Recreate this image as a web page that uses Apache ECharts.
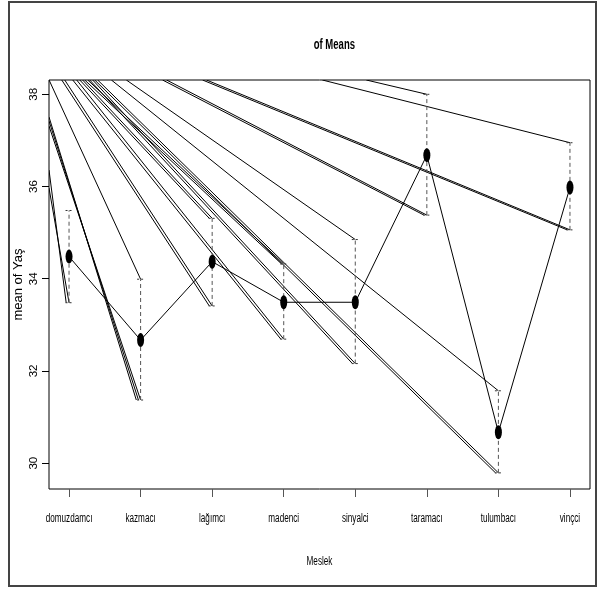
<!DOCTYPE html>
<html>
<head>
<meta charset="utf-8">
<script src="https://cdn.jsdelivr.net/npm/echarts@6/dist/echarts.min.js"></script>
<style>html,body{margin:0;padding:0;background:#fff}#c{width:599px;height:590px}</style>
</head>
<body>
<div id="c"></div>
<script>
// ---- data ----
const categories = ['domuzdamcı','kazmacı','lağımcı','madenci','sinyalci','taramacı','tulumbacı','vinçci'];
const means = [34.48, 32.67, 34.37, 33.49, 33.49, 36.68, 30.67, 35.98];
const upperCI = [35.48, 33.99, 35.31, 34.32, 34.85, 38.00, 31.57, 36.95];
const lowerCI = [33.48, 31.37, 33.41, 32.69, 32.16, 35.38, 29.79, 35.06];
const yTicks = [30, 32, 34, 36, 38];
const xTicks = [0, 1, 2, 3, 4, 5, 6, 7];

// stray segments (artefacts of the source): start point in data units, end at a CI end
const strayFromX = [-0.279, -0.28, -0.28, -0.28, -0.28, -0.28, -0.102, -0.060, 0.052, 0.107, 0.150, 0.190, 0.219, 0.261, 0.289, 0.331, 0.359, 0.400, 0.592, 0.801, 1.307, 1.363, 1.866, 1.921, 3.540, 4.154];
const strayFromY = [38.31, 37.507, 37.42, 37.312, 36.357, 35.967, 38.31, 38.31, 38.31, 38.31, 38.31, 38.31, 38.31, 38.31, 38.31, 38.31, 38.31, 38.31, 38.31, 38.31, 38.31, 38.31, 38.31, 38.31, 38.31, 38.31];
const strayToCat = [1, 1, 1, 1, 0, 0, 2, 2, 3, 3, 2, 2, 3, 3, 4, 4, 6, 6, 6, 4, 5, 5, 7, 7, 7, 5];
const strayToEnd = ['u','l','l','l','l','l','l','l','l','l','u','u','u','u','l','l','l','l','u','u','l','l','l','l','u','u'];
const strayToShift = [0, -0.06, -0.03, 0, -0.04, 0, -0.04, 0, -0.04, 0, -0.04, 0, -0.03, 0, -0.04, 0, -0.04, 0, 0, 0, -0.04, 0, -0.04, 0, 0, 0];

const X_MIN = -0.28, X_MAX = 7.28, Y_MIN = 29.44, Y_MAX = 38.31;

const meanData = means.map((v, i) => [i, v]);
const ciData = means.map((v, i) => [i, lowerCI[i], upperCI[i]]);
const strayData = strayFromX.map((fx, k) => {
  const c = strayToCat[k];
  const ty = strayToEnd[k] === 'u' ? upperCI[c] : lowerCI[c];
  return [fx, strayFromY[k], c + strayToShift[k], ty];
});

const regular = "'Liberation Sans', Arial, sans-serif";
const ellipse = 'path://M0,50 A50,50 0 1,1 100,50 A50,50 0 1,1 0,50 Z';
const SQUEEZE = 0.68;

const chart = echarts.init(document.getElementById('c'), null, {renderer: 'canvas'});
chart.setOption({
  animation: false,
  backgroundColor: '#fff',
  grid: {left: 49, right: 9, top: 80, bottom: 101, show: true, borderColor: '#000', borderWidth: 1, backgroundColor: 'transparent'},
  xAxis: {
    type: 'value', min: X_MIN, max: X_MAX,
    splitLine: {show: false},
    axisLine: {show: false, onZero: false},
    axisTick: {show: true, length: 8, customValues: xTicks, lineStyle: {color: '#555'}},
    axisLabel: {show: false}
  },
  yAxis: {
    type: 'value', min: Y_MIN, max: Y_MAX,
    splitLine: {show: false},
    axisLine: {show: false, onZero: false},
    axisTick: {show: true, length: 7, customValues: yTicks, lineStyle: {color: '#000'}},
    axisLabel: {customValues: yTicks, rotate: 90, margin: 9, fontSize: 11.5, fontFamily: regular, color: '#000'},
    name: 'mean of Yaş', nameLocation: 'middle', nameGap: 24, nameRotate: 90, nameMoveOverlap: false,
    nameTextStyle: {fontSize: 13, fontFamily: regular, color: '#000'}
  },
  series: [
    {
      type: 'custom', name: 'stray', data: strayData, clip: true, z: 2,
      renderItem: (params, api) => {
        const a = api.coord([api.value(0), api.value(1)]);
        const b = api.coord([api.value(2), api.value(3)]);
        return {type: 'line', shape: {x1: a[0], y1: a[1], x2: b[0], y2: b[1]},
          style: {stroke: '#000', lineWidth: 1}};
      }
    },
    {
      type: 'custom', name: 'ci', data: ciData, clip: true, z: 3,
      renderItem: (params, api) => {
        const lo = api.coord([api.value(0), api.value(1)]);
        const hi = api.coord([api.value(0), api.value(2)]);
        const w = 3.5;
        return {type: 'group', children: [
          {type: 'line', shape: {x1: lo[0], y1: lo[1], x2: hi[0], y2: hi[1]}, style: {stroke: '#555', lineWidth: 1, lineDash: [4, 3]}},
          {type: 'line', shape: {x1: hi[0] - w, y1: hi[1], x2: hi[0] + w, y2: hi[1]}, style: {stroke: '#333', lineWidth: 1, lineDash: [2, 2]}},
          {type: 'line', shape: {x1: lo[0] - w, y1: lo[1], x2: lo[0] + w, y2: lo[1]}, style: {stroke: '#333', lineWidth: 1, lineDash: [2, 2]}}
        ]};
      }
    },
    {
      type: 'line', name: 'mean', data: meanData, z: 4,
      symbol: ellipse, symbolSize: [7, 14], showAllSymbol: true,
      itemStyle: {color: '#000'},
      lineStyle: {color: '#000', width: 1}
    }
  ]
});

// condensed horizontal texts (the source uses a narrow face), placed through the axis scale
const gridRect = chart.getModel().getComponent('grid').coordinateSystem.getRect();
const plotCenterX = gridRect.x + gridRect.width / 2;
const labelY = gridRect.y + gridRect.height + 30;
const graphics = [
  {type: 'rect', shape: {x: 9, y: 2, width: 587, height: 584}, style: {fill: 'none', stroke: '#444', lineWidth: 2}, silent: true},
  {type: 'text', x: 355, y: 45, scaleX: SQUEEZE, style: {text: 'of Means', font: "bold 14px " + regular, fill: '#000', textAlign: 'right', textVerticalAlign: 'middle'}},
  {type: 'text', x: plotCenterX, y: 562, scaleX: SQUEEZE, style: {text: 'Meslek', font: "12px " + regular, fill: '#000', textAlign: 'center', textVerticalAlign: 'middle'}}
];
xTicks.forEach(t => {
  const px = chart.convertToPixel({xAxisIndex: 0}, t);
  graphics.push({type: 'text', x: px, y: labelY, scaleX: SQUEEZE,
    style: {text: categories[t], font: "12px " + regular, fill: '#000', textAlign: 'center', textVerticalAlign: 'middle'}});
});
chart.setOption({graphic: graphics});
</script>
</body>
</html>
